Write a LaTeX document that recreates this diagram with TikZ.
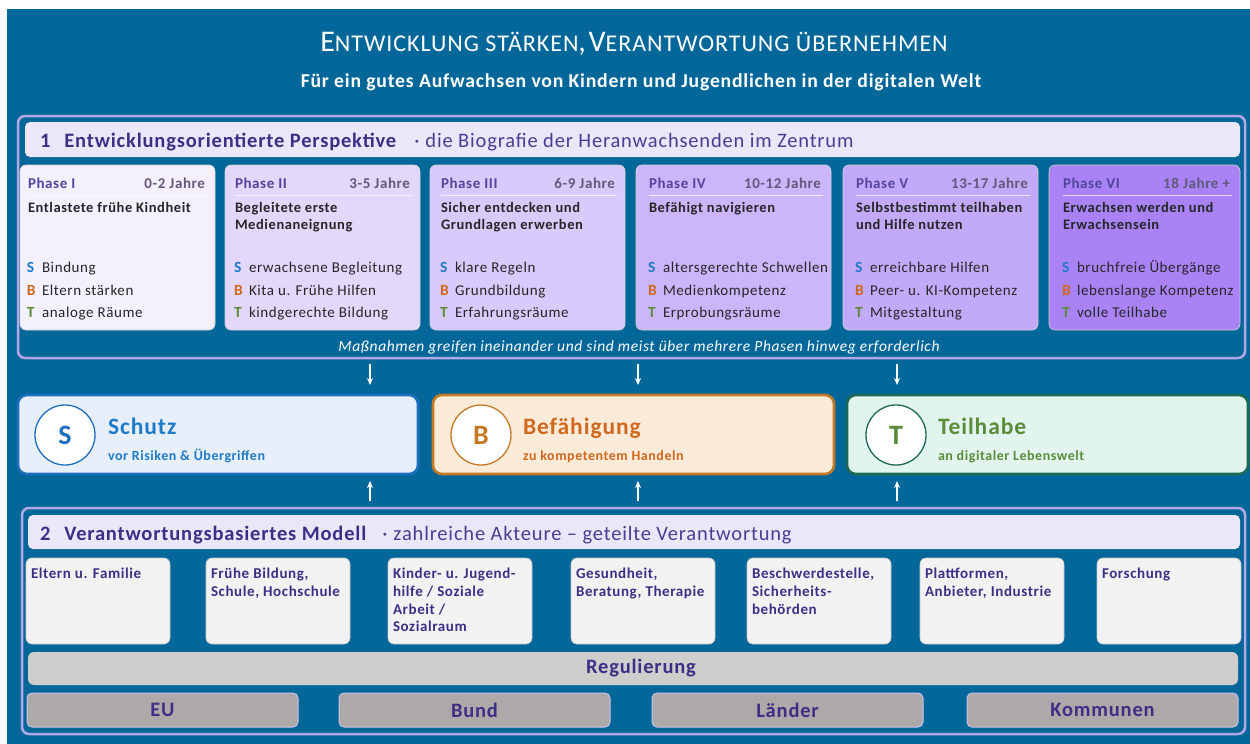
\documentclass[tikz,border=0pt]{standalone}
\usepackage{fontspec}
\setmainfont{Carlito}[LetterSpace=4]
\usetikzlibrary{arrows.meta}
\definecolor{bg}{HTML}{03679A}
\definecolor{frameL}{HTML}{B3A7E6}
\definecolor{headF}{HTML}{EBE7F9}
\definecolor{purp}{HTML}{3E2F86}
\definecolor{purpL}{HTML}{4A3D94}
\definecolor{phpurp}{HTML}{54449C}
\definecolor{yrgrey}{HTML}{625878}
\definecolor{dark}{HTML}{262626}
\definecolor{cS}{HTML}{1F7BC8}
\definecolor{cB}{HTML}{D0691E}
\definecolor{cT}{HTML}{5A8C39}
\definecolor{p1}{HTML}{F4F0FE}
\definecolor{p2}{HTML}{E3D7FC}
\definecolor{p3}{HTML}{D9CAFC}
\definecolor{p4}{HTML}{CBB5FB}
\definecolor{p5}{HTML}{C3A9FA}
\definecolor{p6}{HTML}{A982F5}
\definecolor{sF}{HTML}{E7F0FA}
\definecolor{sD}{HTML}{1F6FBF}
\definecolor{bF}{HTML}{FBEBD8}
\definecolor{bD}{HTML}{C47A25}
\definecolor{tF}{HTML}{E2F4EE}
\definecolor{tD}{HTML}{1D6A55}
\definecolor{actF}{HTML}{F2F2F2}
\definecolor{regF}{HTML}{D0CDCD}
\definecolor{lvlF}{HTML}{ADA9A8}
\newcommand\TBig[1]{{\fontsize{30}{30}\selectfont #1}}
\newcommand\TSm[1]{{\fontsize{24}{30}\selectfont #1}}
\begin{document}
\begin{tikzpicture}[x=1pt,y=-1pt,
  every node/.style={inner sep=0pt,outer sep=0pt},
  nw/.style={anchor=north west},
  frame1/.style={nw,draw=frameL,line width=2.5pt,rounded corners=7pt},
  headbar/.style={nw,fill=headF,rounded corners=5pt},
  phbox/.style={nw,draw=black!18,line width=0.6pt,rounded corners=6pt,minimum width=195pt,minimum height=165pt},
  phname/.style={anchor=base west,font=\fontsize{15}{18}\selectfont\bfseries,text=phpurp},
  phyear/.style={anchor=base east,font=\fontsize{15}{18}\selectfont\bfseries,text=yrgrey},
  phtitle/.style={anchor=north west,align=left,font=\fontsize{14.5}{17}\selectfont\bfseries,text=dark},
  letter/.style={anchor=base west,font=\fontsize{15.5}{18}\selectfont\bfseries},
  item/.style={anchor=base west,font=\fontsize{15}{18}\selectfont,text=dark},
  stb/.style={nw,line width=2.6pt,rounded corners=9pt,minimum width=400pt,minimum height=79pt},
  circ/.style={circle,fill=white,line width=1.3pt,minimum size=60pt},
  circL/.style={font=\fontsize{28}{30}\selectfont\bfseries},
  stbT/.style={anchor=base west,font=\fontsize{23.5}{26}\selectfont\bfseries},
  stbS/.style={anchor=base west,font=\fontsize{14}{16}\selectfont\bfseries},
  actor/.style={nw,fill=actF,draw=black!22,line width=0.6pt,rounded corners=6pt,minimum width=144pt,minimum height=86pt},
  actT/.style={anchor=north west,align=left,font=\fontsize{15}{17.8}\selectfont\bfseries,text=purp},
  level/.style={nw,fill=lvlF,draw=frameL!70,line width=1pt,rounded corners=5pt,minimum width=271pt,minimum height=34pt,
     font=\fontsize{20.5}{22}\selectfont\bfseries,text=purp},
  arr/.style={draw=white,line width=1.4pt,-{Stealth[length=7pt,width=6pt]}}
]
\useasboundingbox (0,0) rectangle (1250,744);
\fill[white] (0,0) rectangle (1250,744);
\fill[bg] (7,9) rectangle (1250,744);

% title
\node[text=white] (title) at (634,44) {\TBig{E}\TSm{NTWICKLUNG STÄRKEN}\TBig{,} \TBig{V}\TSm{ERANTWORTUNG ÜBERNEHMEN}};
\node[text=white,font=\fontsize{19.7}{22}\selectfont\bfseries] (sub) at (641,82) {Für ein gutes Aufwachsen von Kindern und Jugendlichen in der digitalen Welt};

% section 1
\node[frame1,minimum width=1227pt,minimum height=242pt] (sec1) at (18,116) {};
\node[headbar,minimum width=1215pt,minimum height=35pt] (h1) at (25,122) {};
\node[anchor=base west,font=\fontsize{20.5}{22}\selectfont,text=purp] (h1t) at (40,147)
  {\bfseries 1\hspace{14pt}Entwicklungsorientierte Perspektive\mdseries\color{purpL}\hspace{18pt}·\hspace{6pt}die Biografie der Heranwachsenden im Zentrum};

\foreach \i/\x/\w/\pd/\pf/\pn/\yr/\ti/\ss/\bb/\tt in {
  1/20/195/8/p1/Phase I/0-2 Jahre/{Entlastete frühe Kindheit}/Bindung/Eltern stärken/analoge Räume,
  2/225/195/10/p2/Phase II/3-5 Jahre/{Begleitete erste\\Medienaneignung}/erwachsene Begleitung/Kita u. Frühe Hilfen/kindgerechte Bildung,
  3/430/195/11/p3/Phase III/6-9 Jahre/{Sicher entdecken und\\Grundlagen erwerben}/klare Regeln/Grundbildung/Erfahrungsräume,
  4/636/195/13/p4/Phase IV/10-12 Jahre/{Befähigt navigieren}/altersgerechte Schwellen/Medienkompetenz/Erprobungsräume,
  5/843/195/13/p5/Phase V/13-17 Jahre/{Selbstbestimmt teilhaben\\und Hilfe nutzen}/erreichbare Hilfen/Peer- u. KI-Kompetenz/Mitgestaltung,
  6/1049/191/14/p6/Phase VI/18 Jahre +/{Erwachsen werden und\\Erwachsensein}/bruchfreie Übergänge/lebenslange Kompetenz/volle Teilhabe}{
  \node[phbox,fill=\pf,minimum width=\w pt] (ph\i) at (\x,165) {};
  \node[phname] (phn\i) at (\x+\pd,188) {\pn};
  \node[phyear] (phy\i) at (\x+\w-10,188) {\yr};
  \draw[white!70!\pf,line width=1pt] (\x+\pd,195) -- (\x+\w-8,195);
  \node[phtitle] (pht\i) at (\x+\pd,202) {\ti};
  \node[letter,text=cS] (s\i) at (\x+\pd-1,272) {S};
  \node[item] (si\i) at (\x+\pd+14,272) {\ss};
  \node[letter,text=cB] (b\i) at (\x+\pd-1,295) {B};
  \node[item] (bi\i) at (\x+\pd+14,295) {\bb};
  \node[letter,text=cT] (t\i) at (\x+\pd-1,317) {T};
  \node[item] (ti\i) at (\x+\pd+14,317) {\tt};
}
\node[text=white,font=\fontsize{15.5}{16}\selectfont\itshape] (note) at (639,347)
  {Maßnahmen greifen ineinander und sind meist über mehrere Phasen hinweg erforderlich};

% S B T
\node[stb,fill=sF,draw=sD] (sbox) at (18,395) {};
\node[stb,fill=bF,draw=bD,minimum width=401pt] (bbox) at (433,395) {};
\node[stb,fill=tF,draw=tD,minimum width=401pt] (tbox) at (847,395) {};
\node[circ,draw=sD] (sc) at (65,435) {};
\node[circL,text=sD] at (sc) {S};
\node[circ,draw=bD] (bc) at (481,435) {};
\node[circL,text=bD] at (bc) {B};
\node[circ,draw=tD] (tc) at (896,435) {};
\node[circL,text=cT] at (tc) {T};
\node[stbT,text=cS] (st) at (108,434) {Schutz};
\node[stbS,text=cS] (ss) at (108,460) {vor Risiken \& Übergriffen};
\node[stbT,text=cB] (bt) at (523,434) {Befähigung};
\node[stbS,text=cB] (bs) at (523,460) {zu kompetentem Handeln};
\node[stbT,text=cT] (tt) at (938,434) {Teilhabe};
\node[stbS,text=cT] (ts) at (938,460) {an digitaler Lebenswelt};

% section 2
\node[frame1,minimum width=1223pt,minimum height=226pt] (sec2) at (22,508) {};
\node[headbar,minimum width=1212pt,minimum height=34pt] (h2) at (28,515) {};
\node[anchor=base west,font=\fontsize{20.5}{22}\selectfont,text=purp] (h2t) at (40,540)
  {\bfseries 2\hspace{14pt}Verantwortungsbasiertes Modell\mdseries\color{purpL}\hspace{16pt}·\hspace{6pt}zahlreiche Akteure – geteilte Verantwortung};

\foreach \i/\x/\t in {
  1/26/{Eltern u. Familie},
  2/206/{Frühe Bildung,\\Schule, Hochschule},
  3/388/{Kinder- u. Jugend-\\hilfe / Soziale\\Arbeit /\\Sozialraum},
  4/571/{Gesundheit,\\Beratung, Therapie},
  5/747/{Beschwerdestelle,\\Sicherheits-\\behörden},
  6/920/{Plattformen,\\Anbieter, Industrie},
  7/1097/{Forschung}}{
  \node[actor] (ac\i) at (\x,558) {};
  \node[actT] (act\i) at (\x+5,568) {\t};
}
\node[nw,fill=regF,rounded corners=6pt,minimum width=1210pt,minimum height=33pt] (reg) at (28,652) {};
\node[font=\fontsize{20.5}{22}\selectfont\bfseries,text=purp] (regt) at ([xshift=8pt]reg.center) {Regulierung};
\node[level] (eu) at (27,693) {EU};
\node[level] (bund) at (339,693) {Bund};
\node[level] (laender) at (652,693) {Länder};
\node[level] (komm) at (967,693) {Kommunen};

% arrows
\coordinate (d1) at (370,364);
\coordinate (d2) at (638,364);
\coordinate (d3) at (897,364);
\coordinate (d1e) at (370,385);
\coordinate (d2e) at (638,385);
\coordinate (d3e) at (897,385);
\draw[arr] (d1) -- (d1e);
\draw[arr] (d2) -- (d2e);
\draw[arr] (d3) -- (d3e);
\coordinate (u1) at (370,501);
\coordinate (u2) at (638,501);
\coordinate (u3) at (897,501);
\coordinate (u1e) at (370,481);
\coordinate (u2e) at (638,481);
\coordinate (u3e) at (897,481);
\draw[arr] (u1) -- (u1e);
\draw[arr] (u2) -- (u2e);
\draw[arr] (u3) -- (u3e);
\end{tikzpicture}
\end{document}
